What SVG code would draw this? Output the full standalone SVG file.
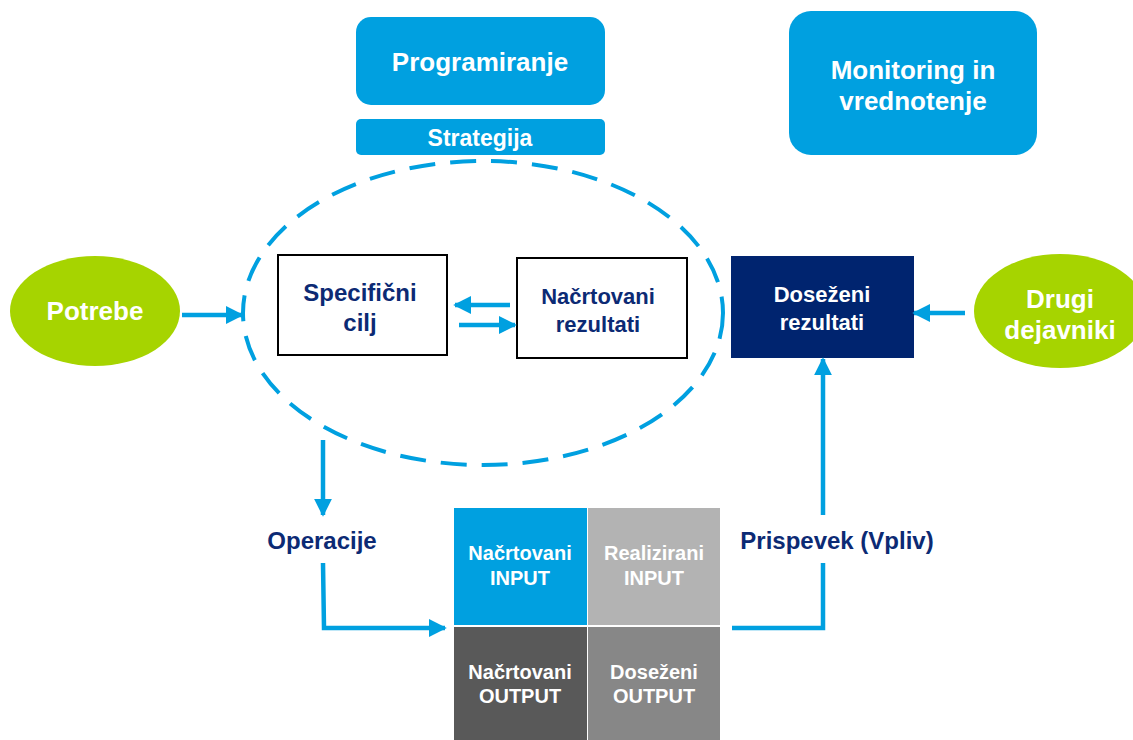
<svg xmlns="http://www.w3.org/2000/svg" width="1133" height="740" viewBox="0 0 1133 740">
<style>
text{font-family:"Liberation Sans",Arial,sans-serif;font-weight:bold;text-anchor:middle}
.w{fill:#ffffff}
.n{fill:#0c2a74}
.blue{fill:#00a0e0}
.green{fill:#a6d400}
.conn{stroke:#00a0e0;stroke-width:4.5;fill:none}
.box{fill:#ffffff;stroke:#000000;stroke-width:2}
</style>
<defs>
<marker id="ah" viewBox="0 0 10 10" refX="9" refY="5" markerWidth="4" markerHeight="4" orient="auto" markerUnits="strokeWidth">
<path d="M0,0 L10,5 L0,10 z" fill="#00a0e0"/>
</marker>
</defs>
<rect width="1133" height="740" fill="#ffffff"/>

<g id="programiranje">
<rect class="blue" x="356" y="17" width="249" height="88" rx="15"/>
<text class="w" x="480" y="71" font-size="26">Programiranje</text>
</g>
<g id="strategija">
<rect class="blue" x="356" y="119" width="249" height="36" rx="5"/>
<text class="w" x="480" y="146" font-size="23">Strategija</text>
</g>
<g id="monitoring">
<rect class="blue" x="789" y="11" width="248" height="144" rx="22"/>
<text class="w" x="913" y="79" font-size="26">Monitoring in</text>
<text class="w" x="913" y="110" font-size="26">vrednotenje</text>
</g>

<g id="ellipse">
<ellipse cx="483" cy="313" rx="240" ry="152" fill="none" stroke="#00a0e0" stroke-width="4" stroke-dasharray="26,15"/>
</g>

<g id="potrebe">
<ellipse class="green" cx="95" cy="311" rx="85" ry="55"/>
<text class="w" x="95" y="320" font-size="26">Potrebe</text>
</g>
<g id="drugi">
<ellipse class="green" cx="1060" cy="311" rx="86" ry="57"/>
<text class="w" x="1060" y="308" font-size="26">Drugi</text>
<text class="w" x="1060" y="339" font-size="26">dejavniki</text>
</g>

<g id="specificni">
<rect class="box" x="278" y="255" width="169" height="100"/>
<text class="n" x="360" y="301" font-size="24">Specifični</text>
<text class="n" x="360" y="331" font-size="24">cilj</text>
</g>
<g id="nacrtovani-rezultati">
<rect class="box" x="517" y="258" width="170" height="100"/>
<text class="n" x="598" y="304" font-size="22">Načrtovani</text>
<text class="n" x="598" y="332" font-size="22">rezultati</text>
</g>
<g id="dosezeni-rezultati">
<rect x="731" y="256" width="183" height="102" fill="#00246f"/>
<text class="w" x="822" y="302" font-size="22">Doseženi</text>
<text class="w" x="822" y="330" font-size="22">rezultati</text>
</g>

<g id="operacije">
<text class="n" x="322" y="549" font-size="24">Operacije</text>
</g>
<g id="prispevek">
<text class="n" x="837" y="549" font-size="24">Prispevek (Vpliv)</text>
</g>

<g id="grid">
<rect x="454" y="508" width="133" height="117" fill="#00a0e0"/>
<rect x="588" y="508" width="132" height="117" fill="#b3b3b3"/>
<rect x="454" y="627" width="133" height="113" fill="#595959"/>
<rect x="588" y="627" width="132" height="113" fill="#878787"/>
<text class="w" x="520" y="560" font-size="20">Načrtovani</text>
<text class="w" x="520" y="585" font-size="20">INPUT</text>
<text class="w" x="654" y="560" font-size="20">Realizirani</text>
<text class="w" x="654" y="585" font-size="20">INPUT</text>
<text class="w" x="520" y="679" font-size="20">Načrtovani</text>
<text class="w" x="520" y="703" font-size="20">OUTPUT</text>
<text class="w" x="654" y="679" font-size="20">Doseženi</text>
<text class="w" x="654" y="703" font-size="20">OUTPUT</text>
</g>

<g id="connectors">
<line class="conn" x1="182" y1="315" x2="242" y2="315" marker-end="url(#ah)"/>
<line class="conn" x1="510" y1="305" x2="455" y2="305" marker-end="url(#ah)"/>
<line class="conn" x1="459" y1="325" x2="515" y2="325" marker-end="url(#ah)"/>
<line class="conn" x1="965" y1="313" x2="914" y2="313" marker-end="url(#ah)"/>
<line class="conn" x1="323" y1="440" x2="323" y2="515" marker-end="url(#ah)"/>
<polyline class="conn" points="323,563 324,628 445,628" marker-end="url(#ah)"/>
<line class="conn" x1="823" y1="515" x2="823" y2="359" marker-end="url(#ah)"/>
<polyline class="conn" points="823,563 823,628 732,628"/>
</g>
</svg>
